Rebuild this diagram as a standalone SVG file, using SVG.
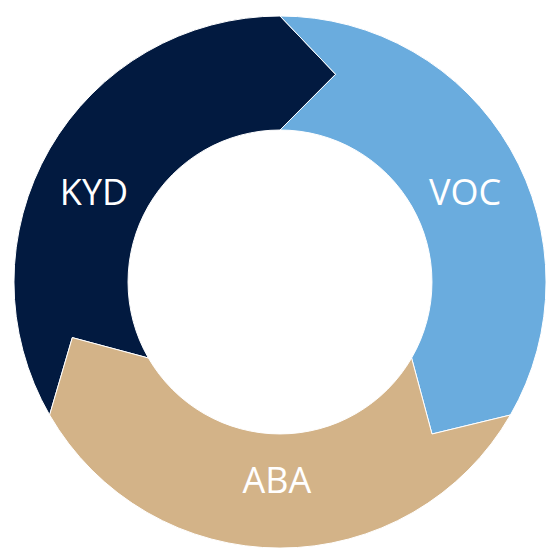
<svg xmlns="http://www.w3.org/2000/svg" width="559" height="559" viewBox="0 0 559 559">
<style>
.seg{stroke:#ffffff;stroke-width:1;stroke-linejoin:miter}
.lbl{font-family:"Open Sans","Noto Sans","Liberation Sans",sans-serif;font-size:36px;fill:#ffffff;text-anchor:middle}
</style>
<rect width="559" height="559" fill="#ffffff"/>
<g id="KYD">
<path class="seg" fill="#021a40" d="M49.6,415 A266,266 0 0 1 280,16 L335.6,74.3 L280,130 A152,152 0 0 0 148.4,358 L72.3,337.6 Z"/>
<text class="lbl" x="94" y="205">KYD</text>
</g>
<g id="VOC">
<path class="seg" fill="#6aacde" d="M280,16 A266,266 0 0 1 510.4,415 L432,434 L411.6,358 A152,152 0 0 0 280,130 L335.6,74.3 Z"/>
<text class="lbl" x="465" y="205">VOC</text>
</g>
<g id="ABA">
<path class="seg" fill="#d3b388" d="M510.4,415 A266,266 0 0 1 49.6,415 L72.3,337.6 L148.4,358 A152,152 0 0 0 411.6,358 L432,434 Z"/>
<text class="lbl" x="277" y="493">ABA</text>
</g>
<g id="connectors"></g>
</svg>
